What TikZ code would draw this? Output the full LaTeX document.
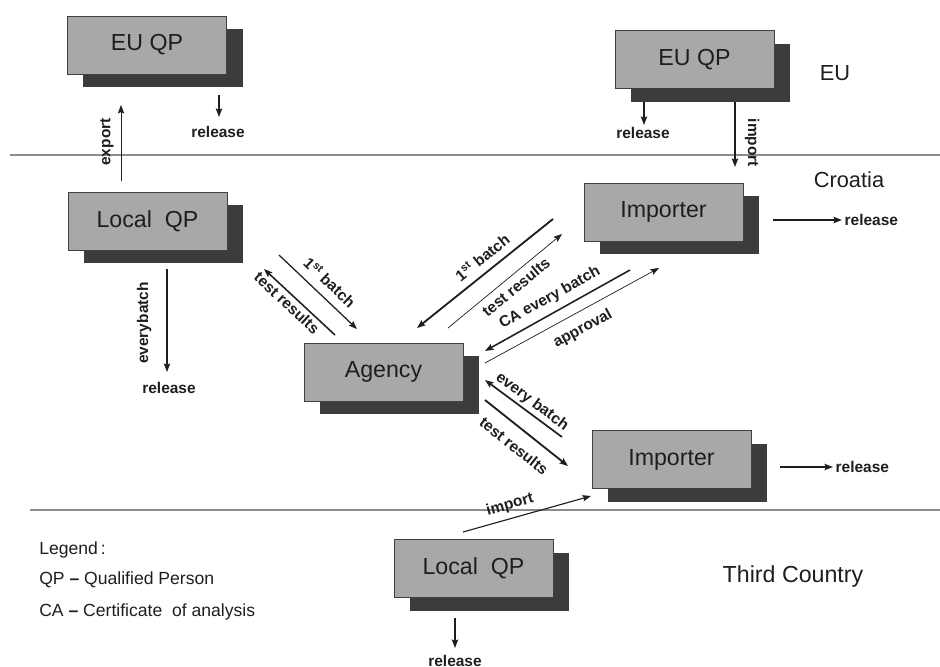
\documentclass[tikz,border=0pt]{standalone}
\usepackage{fontspec}
\setmainfont{Liberation Sans}
\usetikzlibrary{arrows.meta,shadows}

\definecolor{boxGray}{HTML}{A7A8AA}
\definecolor{shadowGray}{HTML}{3C3C3E}
\definecolor{sepGray}{HTML}{8C8C8C}
\definecolor{inkGray}{HTML}{1E1E1E}

\tikzset{
  qpbox/.style={draw=inkGray!85, line width=0.6pt, fill=boxGray, text=inkGray,
    minimum width=3.975cm, minimum height=1.45cm, inner sep=0pt,
    font=\fontsize{16.5}{19}\selectfont,
    drop shadow={shadow xshift=0.4cm, shadow yshift=-0.325cm, opacity=1, fill=shadowGray}},
  flow/.style={->, draw=inkGray, line width=#1},
  flow/.default=0.6pt,
  lbl/.style={font=\bfseries\fontsize{11}{13}\selectfont, text=inkGray, inner sep=1pt},
  region/.style={font=\fontsize{15.5}{18}\selectfont, text=inkGray},
  legend/.style={font=\fontsize{12.5}{15}\selectfont, text=inkGray, anchor=west, inner sep=0pt},
  separator/.style={draw=sepGray, line width=0.9pt}
}

\begin{document}
\begin{tikzpicture}[x=0.025cm, y=-0.025cm, >={Stealth[length=6pt,width=4.5pt,inset=1pt]}]

    % --- Frame (pixel grid of the original) ---
    \useasboundingbox (0,0) rectangle (940,666);

    % --- Borders between regions ---
    \draw[separator] (10,155) -- (940,155);
    \draw[separator] (30,510) -- (940,510);

    % --- Boxes ---
    \node[qpbox] (euLeft) at (147,45) {EU QP};
    \node[qpbox] (euRight) at (694.5,59.5) {EU QP};
    \node[qpbox] (importerTop) at (663.5,212) {Importer};
    \node[qpbox] (localLeft) at (147.5,221) {Local\ \ QP};
    \node[qpbox] (agency) at (383.5,372) {Agency};
    \node[qpbox] (importerBottom) at (671.5,459.5) {Importer};
    \node[qpbox] (localBottom) at (473.5,568.5) {Local\ \ QP};

    % --- Region names ---
    \node[region] (regionEU) at (835,73) {EU};
    \node[region] (regionHR) at (849,180) {Croatia};
    \node[region, font=\fontsize{16.5}{19}\selectfont] (regionTC) at (793,576) {Third Country};

    % --- Legend ---
    \node[legend] (legendHead) at (39,550) {Legend\,:};
    \node[legend] (legendQP) at (39,580) {QP \textbf{--} Qualified\ Person};
    \node[legend] (legendCA) at (39,612) {CA \textbf{--} Certificate\ \ of analysis};

    % --- EU side ---
    \coordinate (exportA) at (121,181);  \coordinate (exportB) at (121,105);
    \draw[flow] (exportA) -- (exportB);
    \node[lbl, rotate=90] (exportLbl) at (107,142) {export};

    \coordinate (relEuLA) at (219,95);   \coordinate (relEuLB) at (219,117);
    \draw[flow=1.6pt] (relEuLA) -- (relEuLB);
    \node[lbl] (relEuL) at (218,132) {release};

    \coordinate (relEuRA) at (644,102);  \coordinate (relEuRB) at (644,125);
    \draw[flow=1.6pt] (relEuRA) -- (relEuRB);
    \node[lbl] (relEuR) at (643,133) {release};

    \coordinate (importA) at (735,102);  \coordinate (importB) at (735,167);
    \draw[flow=1.6pt] (importA) -- (importB);
    \node[lbl, rotate=-90] (importLbl) at (752,143) {import};

    % --- Local QP and Agency ---
    \coordinate (everyA) at (167,269);   \coordinate (everyB) at (167,372);
    \draw[flow=1.2pt] (everyA) -- (everyB);
    \node[lbl, rotate=90] (everyLbl) at (144,323) {everybatch};
    \node[lbl] (relLocalL) at (169,388) {release};

    \coordinate (firstLA) at (279,255);  \coordinate (firstLB) at (357,329);
    \draw[flow=0.9pt] (firstLA) -- (firstLB);
    \node[lbl, rotate=-43.5] (firstLLbl) at (330,282) {1\textsuperscript{st} batch};

    \coordinate (testLA) at (335,335);   \coordinate (testLB) at (264,269);
    \draw[flow=1.1pt] (testLA) -- (testLB);
    \node[lbl, rotate=-43] (testLLbl) at (287,303) {test results};

    % --- Importer (Croatia) and Agency ---
    \coordinate (firstRA) at (553,219);  \coordinate (firstRB) at (417,328);
    \draw[flow=1.3pt] (firstRA) -- (firstRB);
    \node[lbl, rotate=38.7] (firstRLbl) at (482,257) {1\textsuperscript{st} batch};

    \coordinate (testRA) at (448,328);   \coordinate (testRB) at (562,234);
    \draw[flow=0.5pt] (testRA) -- (testRB);
    \node[lbl, rotate=39.5] (testRLbl) at (516,287) {test results};

    \coordinate (caA) at (630,270);      \coordinate (caB) at (485,351);
    \draw[flow=1.1pt] (caA) -- (caB);
    \node[lbl, rotate=29] (caLbl) at (550,298) {CA every batch};

    \coordinate (apprA) at (485,363);    \coordinate (apprB) at (659,268);
    \draw[flow=0.5pt] (apprA) -- (apprB);
    \node[lbl, rotate=28.6] (apprLbl) at (583,329) {approval};

    \coordinate (relTA) at (773,220);    \coordinate (relTB) at (842,220);
    \draw[flow=1.2pt] (relTA) -- (relTB);
    \node[lbl, anchor=west] (relTop) at (843,220) {release};

    % --- Importer (third country) and Agency ---
    \coordinate (everyBA) at (562,437);  \coordinate (everyBB) at (485,380);
    \draw[flow=1.2pt] (everyBA) -- (everyBB);
    \node[lbl, rotate=-36.5] (everyBLbl) at (532,402) {every batch};

    \coordinate (testBA) at (485,400);   \coordinate (testBB) at (568,466);
    \draw[flow=1.3pt] (testBA) -- (testBB);
    \node[lbl, rotate=-38.5] (testBLbl) at (514,446) {test results};

    \coordinate (relBA) at (780,467);    \coordinate (relBB) at (833,467);
    \draw[flow=1.2pt] (relBA) -- (relBB);
    \node[lbl, anchor=west] (relBottom) at (834,467) {release};

    % --- Third country ---
    \coordinate (importBA) at (463,532); \coordinate (importBB) at (591,496);
    \draw[flow=0.8pt] (importBA) -- (importBB);
    \node[lbl, rotate=15.7] (importBLbl) at (510,505) {import};

    \coordinate (relLBA) at (455,618);   \coordinate (relLBB) at (455,648);
    \draw[flow=1.4pt] (relLBA) -- (relLBB);
    \node[lbl] (relLocalB) at (455,661) {release};

\end{tikzpicture}
\end{document}
